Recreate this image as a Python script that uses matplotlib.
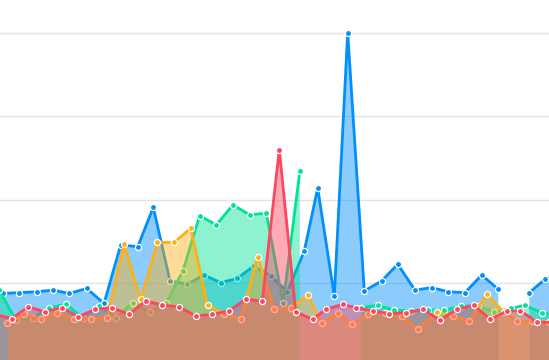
import numpy as np
import matplotlib
matplotlib.use("Agg")
import matplotlib.pyplot as plt

nan = np.nan

# ---- data (x = time position, y = value) ----
blue_x = [-13.4, 3, 19.3, 36.7, 53.3, 69.3, 86.7, 104, 120.7, 137.7, 153.3, 170, 187.3, 204,
          220.7, 237.3, 254, 270.7, 287.3, 304.3, 317.7, 334.3, 347.7, 364.3, 381.7, 397.7,
          415, 431.7, 448.3, 465, 481.7, 498.3, 514, 529.3, 545, 561]
blue_y = [90, 88, 89, 90, 92, 88, 94, 76, 146, 144, 191, 103, 99, 110,
          101, 106, 121, 109, 90, 139, 214, 85, 400, 91, 103, 123,
          92, 95, 90, 89, 110, 93, nan, 89, 105, 110]

green_x = [-0.8, 15.9, 32.6, 49.3, 66, 82.7, 99.4, 116.1, 132.8, 149.5, 166.2, 182.9, 199.6,
           216.3, 233, 249.7, 266.4, 283.1, 299.8, 316.5, 333.2, 361, 377.5, 394.2, 410.9,
           427.6, 444.3, 461, 477.7, 494.4, 511, 524.5, 541.8, 558]
green_y = [92, 56, 59, 71, 75, 59, 73, 59, 77, 66, 77, 115, 181,
           170, 194, 182, 184, 76, 234, nan, nan, 71, 74, 68, 67,
           68, 68, 73, 73, 66, 70, 74, 65, 62]

yellow_x = [7.3, 24, 40.7, 57.3, 74, 90.7, 107.3, 124, 140.7, 157.4, 174.1, 190.8, 207.5,
            224.2, 240.9, 257.6, 274.3, 291, 307.7, 321.7, 338.3, 351.7, 368.3, 385, 401.6,
            418.2, 436.7, 452.7, 469.3, 486.8, 503.5, 516.5, 532, 549]
yellow_y = [53, 63, 57, 65, 57, 58, 59, 147, 81, 149, 149, 166, 74,
            64, 58, 132, 69, 71, 86, 53, 65, 51, 63, 65, 61,
            45, 66, 61, 55, 87, 66, 55, 55, 54]

red_x = [-5, 11.7, 28.3, 45, 61.7, 78.3, 95, 111.7, 129, 145.7, 162.3, 179, 195.7, 212.3,
         229, 245.7, 262.3, 279.3, 295.7, 312.5, 326, 342.7, 356, 372.7, 389.3, 406, 422.7,
         440, 457, 473.7, 490.3, 507, 520.3, 537, 553]
red_y = [63, 58, 72, 66, 71, 60, 69, 71, 63, 79, 74, 72, 61, 63,
         67, 81, 79, 260, 66, 57, 69, 75, 71, 67, 64, 65, 69,
         56, 69, 74, 57, 67, 67, 54, 53]

series = [
    (blue_x, blue_y, "#008FFB"),
    (green_x, green_y, "#00E396"),
    (yellow_x, yellow_y, "#FEB019"),
    (red_x, red_y, "#FF4560"),
]

fig = plt.figure(figsize=(5.49, 3.6), dpi=100)
ax = fig.add_axes([0, 0, 1, 1])
ax.set_xlim(0, 549)
ax.set_ylim(8.4, 439)
ax.set_yticks([100, 200, 300, 400])
ax.set_xticks([])
ax.grid(axis="y", color="#e3e3e3", linewidth=1.0)
ax.set_axisbelow(True)
ax.tick_params(length=0, labelleft=False, labelbottom=False)
for s in ax.spines.values():
    s.set_visible(False)

for i, (xs, ys, col) in enumerate(series):
    xs = np.array(xs, dtype=float)
    ys = np.array(ys, dtype=float)
    z = 2 + i * 3
    ax.fill_between(xs, 0, ys, where=~np.isnan(ys), color=col, alpha=0.45,
                    linewidth=0, zorder=z, interpolate=False)
    ax.plot(xs, ys, color=col, linewidth=2.0, zorder=z + 1,
            solid_joinstyle="miter")
    ax.plot(xs, ys, linestyle="none", marker="o", markersize=4.4,
            markerfacecolor=col, markeredgecolor="white", markeredgewidth=0.9,
            zorder=z + 2)

fig.savefig("out.png", dpi=100)
